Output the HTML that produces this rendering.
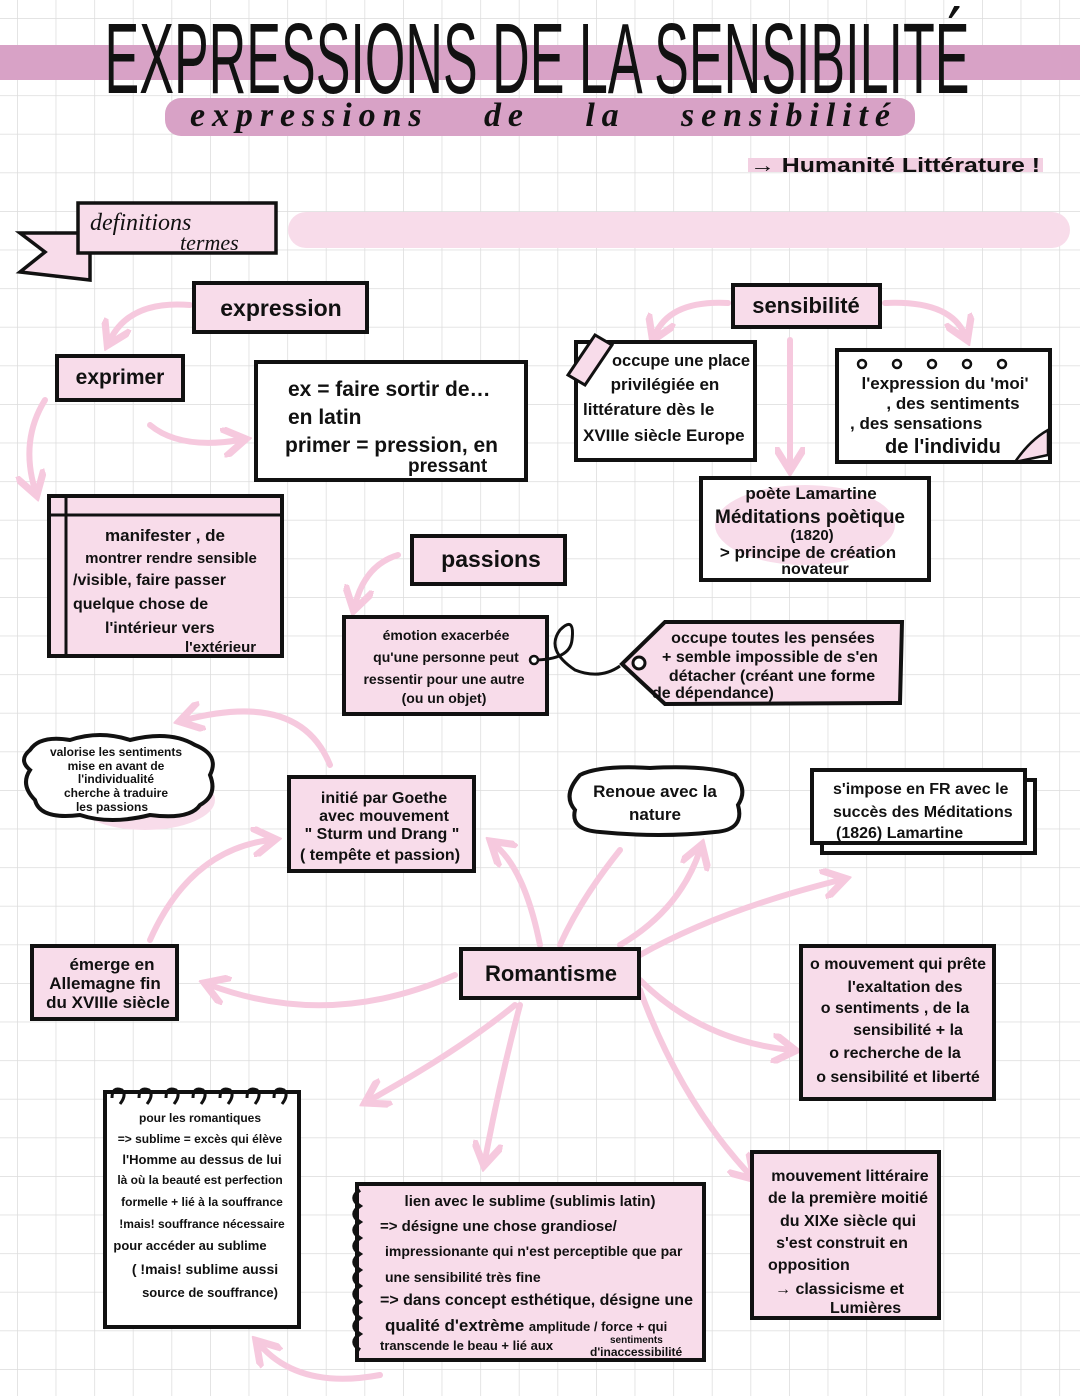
<!DOCTYPE html>
<html><head><meta charset="utf-8"><style>
html,body{margin:0;padding:0;background:#fff}
svg{display:block}
text{font-family:"Liberation Sans",sans-serif;font-weight:bold;fill:#111}
.c{text-anchor:middle}
.b{fill:#f8dcea;stroke:#111;stroke-width:4}
.w{fill:#fff;stroke:#111;stroke-width:4}
.a{fill:none;stroke:#f6c9de;stroke-width:6;stroke-linecap:round}
</style></head><body>
<svg width="1080" height="1396" viewBox="0 0 1080 1396" xmlns="http://www.w3.org/2000/svg">
<defs>
<pattern id="g" x="17" y="18" width="38.6" height="38.6" patternUnits="userSpaceOnUse">
<path d="M0 0H38.6M0 0V38.6" stroke="#dcdcdc" stroke-width="1.5" fill="none"/>
</pattern>
<marker id="m" markerWidth="5" markerHeight="5" refX="3" refY="2.5" orient="auto"><path d="M0 0L4 2.5L0 5" fill="none" stroke="#f6c9de" stroke-width="1.2"/></marker>
</defs>
<rect width="1080" height="1396" fill="#fff"/>
<rect width="1080" height="1396" fill="url(#g)"/>

<!-- title -->
<rect x="0" y="45" width="1080" height="35" fill="#d8a2c6"/>
<text x="537" y="93" class="c" font-size="100" textLength="865" lengthAdjust="spacingAndGlyphs" style="font-weight:normal;fill:#fff;stroke:#111;stroke-width:0" >EXPRESSIONS DE LA SENSIBILITÉ</text>
<text x="537" y="93" class="c" font-size="100" textLength="865" lengthAdjust="spacingAndGlyphs" style="font-weight:normal;fill:#111">EXPRESSIONS DE LA SENSIBILITÉ</text>
<rect x="165" y="98" width="750" height="38" rx="16" fill="#d8a2c6"/>
<text x="540" y="126" class="c" font-size="34" font-style="italic" style="font-family:'Liberation Serif',serif" textLength="700" lengthAdjust="spacing" word-spacing="40">expressions de la sensibilité</text>
<rect x="748" y="158" width="295" height="14" fill="#f3d0e2"/>
<text x="750" y="172" font-size="20" textLength="290" lengthAdjust="spacingAndGlyphs">→ Humanité Littérature !</text>

<!-- banner -->
<path d="M20 233 L90 233 L90 280 L20 272 L45 252 Z" fill="#f8dcea" stroke="#111" stroke-width="3.5"/>
<rect x="78" y="203" width="198" height="50" class="b" style="stroke-width:3.5"/>
<text x="90" y="230" font-size="24" font-style="italic" style="font-family:'Liberation Serif',serif;font-weight:normal">definitions</text>
<text x="180" y="250" font-size="22" font-style="italic" style="font-family:'Liberation Serif',serif;font-weight:normal">termes</text>
<rect x="288" y="212" width="782" height="36" rx="18" fill="#f8dcea"/>

<!-- arrows -->
<path class="a" d="M190 305 Q130 300 110 340" marker-end="url(#m)"/>
<path class="a" d="M150 425 Q180 450 240 440" marker-end="url(#m)"/>
<path class="a" d="M45 400 Q20 440 35 490" marker-end="url(#m)"/>
<path class="a" d="M728 303 Q670 300 655 335" marker-end="url(#m)"/>
<path class="a" d="M885 303 Q950 300 965 335" marker-end="url(#m)"/>
<path class="a" d="M790 340 L790 465" marker-end="url(#m)"/>
<path class="a" d="M398 555 Q365 565 355 605" marker-end="url(#m)"/>
<path class="a" d="M330 765 Q300 690 185 720" marker-end="url(#m)"/>
<path class="a" d="M540 945 Q525 870 495 845" marker-end="url(#m)"/>
<path class="a" d="M560 945 Q580 900 620 850" />
<path class="a" d="M620 945 Q680 910 700 850" marker-end="url(#m)"/>
<path class="a" d="M640 955 Q720 910 840 880" marker-end="url(#m)"/>
<path class="a" d="M455 975 Q330 1030 210 985" marker-end="url(#m)"/>
<path class="a" d="M150 940 Q190 850 270 840" marker-end="url(#m)"/>
<path class="a" d="M640 980 Q700 1040 790 1050" marker-end="url(#m)"/>
<path class="a" d="M640 990 Q680 1100 750 1175" marker-end="url(#m)"/>
<path class="a" d="M520 1005 Q500 1080 485 1160" marker-end="url(#m)"/>
<path class="a" d="M515 1005 Q460 1050 370 1100" marker-end="url(#m)"/>
<path class="a" d="M380 1375 Q300 1390 260 1345" marker-end="url(#m)"/>

<!-- expression -->
<rect x="194" y="283" width="173" height="49" class="b"/>
<text x="281" y="316" class="c" font-size="23">expression</text>
<!-- sensibilite -->
<rect x="733" y="285" width="147" height="42" class="b"/>
<text x="806" y="313" class="c" font-size="22">sensibilité</text>
<!-- exprimer -->
<rect x="57" y="356" width="126" height="44" class="b"/>
<text x="120" y="384" class="c" font-size="21">exprimer</text>
<!-- ex box -->
<rect x="256" y="362" width="270" height="118" class="w"/>
<text x="288" y="396" font-size="21">ex = faire sortir de…</text>
<text x="288" y="424" font-size="21">en latin</text>
<text x="285" y="452" font-size="21">primer = pression, en</text>
<text x="408" y="472" font-size="19">pressant</text>
<!-- occupe une place -->
<rect x="576" y="342" width="179" height="118" class="w"/>
<path d="M568 375 L595 335 L612 345 L585 385 Z" fill="#f8dcea" stroke="#111" stroke-width="3"/>
<text x="612" y="366" font-size="17" textLength="138" lengthAdjust="spacingAndGlyphs">occupe une place</text>
<text x="665" y="390" class="c" font-size="17">privilégiée en</text>
<text x="583" y="415" font-size="17">littérature  dès le</text>
<text x="583" y="441" font-size="17">XVIIIe siècle Europe</text>
<!-- moi box -->
<rect x="837" y="350" width="213" height="112" class="w"/>
<path d="M1015 462 Q1030 440 1048 430 L1048 455 Z" fill="#f8dcea" stroke="#111" stroke-width="2.5"/>
<g fill="none" stroke="#111" stroke-width="2.5"><circle cx="862" cy="364" r="4"/><circle cx="897" cy="364" r="4"/><circle cx="932" cy="364" r="4"/><circle cx="967" cy="364" r="4"/><circle cx="1002" cy="364" r="4"/></g>
<text x="945" y="389" class="c" font-size="17">l'expression du 'moi'</text>
<text x="953" y="409" class="c" font-size="17">, des sentiments</text>
<text x="850" y="429" font-size="17">, des sensations</text>
<text x="885" y="453" font-size="20">de l'individu</text>
<!-- lamartine -->
<rect x="701" y="478" width="228" height="102" class="w"/>
<ellipse cx="805" cy="525" rx="90" ry="40" fill="#f8dcea"/>
<text x="811" y="499" class="c" font-size="17">poète Lamartine</text>
<text x="810" y="523" class="c" font-size="19">Méditations poètique</text>
<text x="812" y="540" class="c" font-size="15">(1820)</text>
<text x="808" y="558" class="c" font-size="17">&gt; principe de création</text>
<text x="815" y="574" class="c" font-size="16">novateur</text>
<!-- manifester -->
<rect x="49" y="496" width="233" height="160" class="b"/>
<line x1="49" y1="515" x2="282" y2="515" stroke="#111" stroke-width="3"/>
<line x1="66" y1="496" x2="66" y2="656" stroke="#111" stroke-width="3"/>
<text x="165" y="541" class="c" font-size="17">manifester , de</text>
<text x="171" y="563" class="c" font-size="15">montrer rendre sensible</text>
<text x="73" y="585" font-size="16">/visible, faire passer</text>
<text x="73" y="609" font-size="16">quelque chose de</text>
<text x="105" y="633" font-size="16">l'intérieur vers</text>
<text x="185" y="652" font-size="15">l'extérieur</text>
<!-- passions -->
<rect x="412" y="536" width="153" height="48" class="b"/>
<text x="491" y="567" class="c" font-size="23">passions</text>
<!-- emotion -->
<rect x="344" y="617" width="203" height="97" class="b"/>
<text x="446" y="640" class="c" font-size="14">émotion exacerbée</text>
<text x="446" y="662" class="c" font-size="14">qu'une personne peut</text>
<text x="444" y="684" class="c" font-size="14">ressentir pour une autre</text>
<text x="444" y="703" class="c" font-size="14">(ou un objet)</text>
<path d="M533 660 Q570 660 572 640 Q575 615 560 630 Q545 650 575 670 Q600 680 620 666" fill="none" stroke="#111" stroke-width="3"/>
<circle cx="534" cy="660" r="4" fill="#fff" stroke="#111" stroke-width="2.5"/>
<!-- tag -->
<path d="M665 622 L902 622 L900 703 L665 704 L622 664 Z" class="b"/>
<circle cx="639" cy="663" r="6" fill="#fff" stroke="#111" stroke-width="3"/>
<text x="773" y="643" class="c" font-size="16">occupe toutes les pensées</text>
<text x="770" y="662" class="c" font-size="16">+ semble impossible de s'en</text>
<text x="772" y="681" class="c" font-size="16">détacher (créant une forme</text>
<text x="652" y="698" font-size="16">de dépendance)</text>
<!-- cloud -->
<ellipse cx="145" cy="800" rx="70" ry="30" fill="#f8dcea"/>
<path d="M30 750 Q40 735 70 740 Q100 730 130 740 Q170 730 195 745 Q220 755 210 775 Q218 795 200 805 Q190 820 150 815 Q110 825 80 815 Q40 820 35 800 Q20 785 30 770 Q18 760 30 750 Z" class="w"/>
<text x="116" y="756" class="c" font-size="12">valorise les sentiments</text>
<text x="116" y="770" class="c" font-size="12">mise en avant de</text>
<text x="116" y="783" class="c" font-size="12">l'individualité</text>
<text x="116" y="797" class="c" font-size="12">cherche à traduire</text>
<text x="112" y="811" class="c" font-size="12">les passions</text>
<!-- initie -->
<rect x="289" y="777" width="185" height="94" class="b"/>
<text x="384" y="803" class="c" font-size="16">initié par Goethe</text>
<text x="384" y="821" class="c" font-size="16">avec mouvement</text>
<text x="382" y="839" class="c" font-size="16">" Sturm und Drang "</text>
<text x="380" y="860" class="c" font-size="16">( tempête et passion)</text>
<!-- renoue -->
<path d="M580 775 Q600 765 650 768 Q710 765 735 775 Q748 790 738 805 Q745 830 715 832 Q660 838 600 832 Q570 830 575 810 Q562 795 580 775 Z" class="w"/>
<text x="655" y="797" class="c" font-size="17">Renoue avec la</text>
<text x="655" y="820" class="c" font-size="17">nature</text>
<!-- s'impose -->
<rect x="822" y="780" width="213" height="73" class="w"/>
<rect x="812" y="770" width="213" height="73" class="w"/>
<text x="833" y="794" font-size="16">s'impose en FR avec le</text>
<text x="833" y="817" font-size="16">succès des Méditations</text>
<text x="836" y="838" font-size="16">(1826)    Lamartine</text>
<!-- emerge -->
<rect x="32" y="946" width="145" height="73" class="b"/>
<text x="112" y="970" class="c" font-size="17">émerge en</text>
<text x="105" y="989" class="c" font-size="17">Allemagne  fin</text>
<text x="108" y="1008" class="c" font-size="17">du XVIIIe siècle</text>
<!-- romantisme -->
<rect x="461" y="949" width="178" height="49" class="b"/>
<text x="551" y="981" class="c" font-size="22">Romantisme</text>
<!-- mouvement qui prete -->
<rect x="801" y="946" width="193" height="153" class="b"/>
<text x="898" y="969" class="c" font-size="16">o mouvement qui prête</text>
<text x="905" y="992" class="c" font-size="16">l'exaltation des</text>
<text x="895" y="1013" class="c" font-size="16">o sentiments , de la</text>
<text x="908" y="1035" class="c" font-size="16">sensibilité + la</text>
<text x="895" y="1058" class="c" font-size="16">o  recherche de la</text>
<text x="898" y="1082" class="c" font-size="16">o sensibilité et liberté</text>
<!-- pour les romantiques -->
<rect x="105" y="1092" width="194" height="235" class="w"/>
<g fill="none" stroke="#111" stroke-width="3"><path d="M112 1098 q0 -12 10 -8 q5 5 -2 14"/><path d="M139 1098 q0 -12 10 -8 q5 5 -2 14"/><path d="M166 1098 q0 -12 10 -8 q5 5 -2 14"/><path d="M193 1098 q0 -12 10 -8 q5 5 -2 14"/><path d="M220 1098 q0 -12 10 -8 q5 5 -2 14"/><path d="M247 1098 q0 -12 10 -8 q5 5 -2 14"/><path d="M274 1098 q0 -12 10 -8 q5 5 -2 14"/></g>
<text x="200" y="1122" class="c" font-size="12">pour les romantiques</text>
<text x="200" y="1143" class="c" font-size="12">=&gt; sublime = excès qui élève</text>
<text x="202" y="1164" class="c" font-size="13">l'Homme au dessus de lui</text>
<text x="200" y="1184" class="c" font-size="12">là où la beauté est perfection</text>
<text x="202" y="1206" class="c" font-size="12">formelle + lié à la souffrance</text>
<text x="202" y="1228" class="c" font-size="12">!mais! souffrance nécessaire</text>
<text x="190" y="1250" class="c" font-size="13">pour accéder au sublime</text>
<text x="205" y="1274" class="c" font-size="14">( !mais! sublime aussi</text>
<text x="210" y="1297" class="c" font-size="13">source de souffrance)</text>
<!-- lien avec -->
<rect x="357" y="1184" width="347" height="176" class="b"/>
<path d="M360 1190 q-12 8 0 16 q-12 8 0 16 q-12 8 0 16 q-12 8 0 16 q-12 8 0 16 q-12 8 0 16 q-12 8 0 16 q-12 8 0 16 q-12 8 0 16 q-12 8 0 16" fill="none" stroke="#111" stroke-width="3.5"/>
<text x="530" y="1206" class="c" font-size="15">lien avec le sublime (sublimis latin)</text>
<text x="380" y="1231" font-size="15">=&gt; désigne une chose grandiose/</text>
<text x="385" y="1256" font-size="14">impressionante qui n'est perceptible que par</text>
<text x="385" y="1282" font-size="14">une sensibilité très fine</text>
<text x="380" y="1305" font-size="16">=&gt; dans concept esthétique, désigne une</text>
<text x="385" y="1331" font-size="17">qualité d'extrème <tspan font-size="13">amplitude / force + qui</tspan></text>
<text x="380" y="1350" font-size="13">transcende le beau + lié aux</text>
<text x="590" y="1356" font-size="12">d'inaccessibilité</text>
<text x="610" y="1343" font-size="10">sentiments</text>
<!-- mouvement litteraire -->
<rect x="752" y="1152" width="187" height="166" class="b"/>
<text x="850" y="1181" class="c" font-size="16">mouvement littéraire</text>
<text x="848" y="1203" class="c" font-size="16">de la première moitié</text>
<text x="848" y="1226" class="c" font-size="16">du XIXe siècle qui</text>
<text x="842" y="1248" class="c" font-size="16">s'est construit en</text>
<text x="768" y="1270" font-size="16">opposition</text>
<text x="775" y="1294" font-size="16">→ classicisme et</text>
<text x="830" y="1313" font-size="16">Lumières</text>
</svg>
</body></html>
